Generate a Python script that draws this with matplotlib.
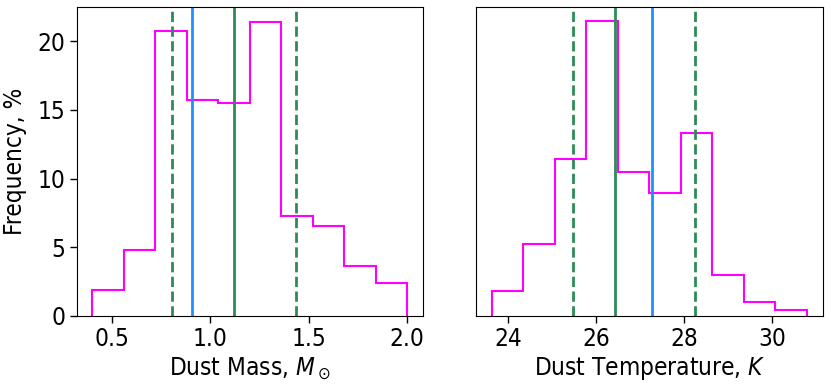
import numpy as np
import matplotlib.pyplot as plt

# histogram of dust mass (percent per bin)
mass_edges = np.linspace(0.4, 2.0, 11)
mass_freq = [1.87, 4.8, 20.7, 15.7, 15.5, 21.4, 7.27, 6.55, 3.66, 2.38]
mass_median = 1.12
mass_best = 0.908
mass_lo, mass_hi = 0.807, 1.436

# histogram of dust temperature (percent per bin)
temp_edges = np.linspace(23.63, 30.80, 11)
temp_freq = [1.82, 5.24, 11.42, 21.43, 10.5, 8.97, 13.29, 2.98, 1.02, 0.44]
temp_median = 26.43
temp_best = 27.28
temp_lo, temp_hi = 25.48, 28.25

plt.rcParams['font.size'] = 17.5
plt.rcParams['font.stretch'] = 'condensed'

fig = plt.figure(figsize=(8.31, 3.87), dpi=100)
ax1 = fig.add_axes([0.0923, 0.1835, 0.4164, 0.7992])
ax2 = fig.add_axes([0.5728, 0.1835, 0.4172, 0.7992], sharey=ax1)

panels = [
    (ax1, mass_edges, mass_freq, mass_median, mass_best, mass_lo, mass_hi, r'Dust Mass, $M_\odot$'),
    (ax2, temp_edges, temp_freq, temp_median, temp_best, temp_lo, temp_hi, r'Dust Temperature, $K$'),
]

for ax, edges, freq, med, best, lo, hi, label in panels:
    ax.stairs(freq, edges, color='magenta', lw=1.5)
    ax.axvline(lo, color='seagreen', ls='--', lw=2)
    ax.axvline(hi, color='seagreen', ls='--', lw=2)
    ax.axvline(best, color='dodgerblue', lw=2)
    ax.axvline(med, color='seagreen', lw=2)
    ax.set_xlabel(label, labelpad=3)
    ax.margins(x=0.05, y=0.05)
    ax.tick_params(length=5, width=1, pad=3)

ax1.set_ylim(0, 22.5)
ax1.set_xticks([0.5, 1.0, 1.5, 2.0])
ax1.set_yticks([0, 5, 10, 15, 20])
ax1.set_ylabel('Frequency, %', labelpad=8)
ax2.set_xticks([24, 26, 28, 30])
ax2.tick_params(axis='y', left=False, labelleft=False)

fig.savefig('out.png', dpi=100)
